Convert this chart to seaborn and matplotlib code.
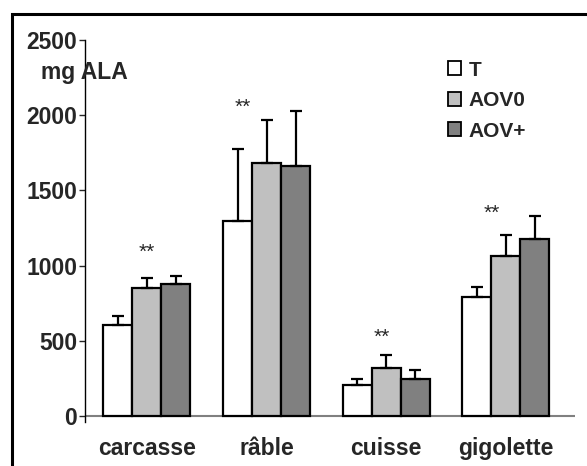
import matplotlib
matplotlib.use("Agg")
import matplotlib.pyplot as plt
from matplotlib.patches import Patch, Rectangle
import seaborn as sns
import pandas as pd

categories = ["carcasse", "râble", "cuisse", "gigolette"]
groups = ["T", "AOV0", "AOV+"]
means_T = [605, 1297, 206, 791]
means_AOV0 = [851, 1682, 319, 1064]
means_AOVp = [878, 1662, 246, 1177]
err_T = [60, 478, 40, 67]
err_AOV0 = [67, 286, 86, 139]
err_AOVp = [53, 366, 60, 153]
colors = ["#ffffff", "#c0c0c0", "#808080"]
yticks = [0, 500, 1000, 1500, 2000, 2500]
star_x = [0.0, 0.80, 1.96, 2.88]
star_y = [1085, 2050, 520, 1345]
ylabel_text = "mg ALA"

means = [means_T, means_AOV0, means_AOVp]
errs = [err_T, err_AOV0, err_AOVp]
rows = []
for g, m in zip(groups, means):
    for c, v in zip(categories, m):
        rows.append({"cat": c, "grp": g, "val": v})
df = pd.DataFrame(rows)

sns.set_style("white")
plt.rcParams["font.family"] = ["Liberation Sans", "DejaVu Sans"]

fig = plt.figure(figsize=(5.87, 4.66), dpi=100)
ax = fig.add_axes([85 / 587, (466 - 422) / 466, 490 / 587, (422 - 40) / 466])

sns.barplot(data=df, x="cat", y="val", hue="grp", order=categories,
            hue_order=groups, palette=colors, errorbar=None, width=0.727,
            edgecolor="black", linewidth=1.6, saturation=1, ax=ax, legend=False)

for cont, e in zip(ax.containers, errs):
    xs = [b.get_x() + b.get_width() / 2 for b in cont]
    ys = [b.get_height() for b in cont]
    ax.errorbar(xs, ys, yerr=[[0] * len(e), e], fmt="none", ecolor="black",
                elinewidth=1.6, capsize=4, capthick=1.6, zorder=1)

for x, y in zip(star_x, star_y):
    ax.text(x, y, "**", ha="center", va="center", fontsize=15,
            family="Liberation Sans")

ax.set_xlim(-0.517, 3.577)
ax.set_ylim(-40, 2500)
ax.set_yticks(yticks)
ax.set_yticklabels([str(t) for t in yticks], fontsize=16.5, fontweight="bold")
ax.set_xticks(range(len(categories)))
ax.set_xticklabels(categories, fontsize=16.5, fontweight="bold")
ax.tick_params(axis="x", length=0, pad=11)
ax.tick_params(axis="y", length=4.5, width=1, direction="out", pad=1, left=True)
ax.set_xlabel("")
ax.set_ylabel("")
for s in ["top", "right", "bottom"]:
    ax.spines[s].set_visible(False)
ax.spines["left"].set_linewidth(1)
ax.spines["left"].set_color("black")
ax.axhline(0, color="#808080", lw=1.5, zorder=0)

fig.text(41 / 587, 1 - 73 / 466, ylabel_text, fontsize=16.5, fontweight="bold",
         ha="left", va="center")

handles = [Patch(facecolor=c, edgecolor="black", linewidth=1.3) for c in colors]
ax.legend(handles, groups, loc="upper left", bbox_to_anchor=(0.74, 0.946),
          frameon=False, prop={"weight": "bold", "size": 15},
          handlelength=0.65, handleheight=0.65, handletextpad=0.35,
          labelspacing=0.55, borderpad=0, borderaxespad=0)

fig.patches.append(Rectangle((12 / 587, -0.2), 1.2, 0.2 + 1 - 14 / 466,
                             transform=fig.transFigure, fill=False,
                             edgecolor="black", linewidth=2.2))

fig.savefig("out.png", dpi=100)
